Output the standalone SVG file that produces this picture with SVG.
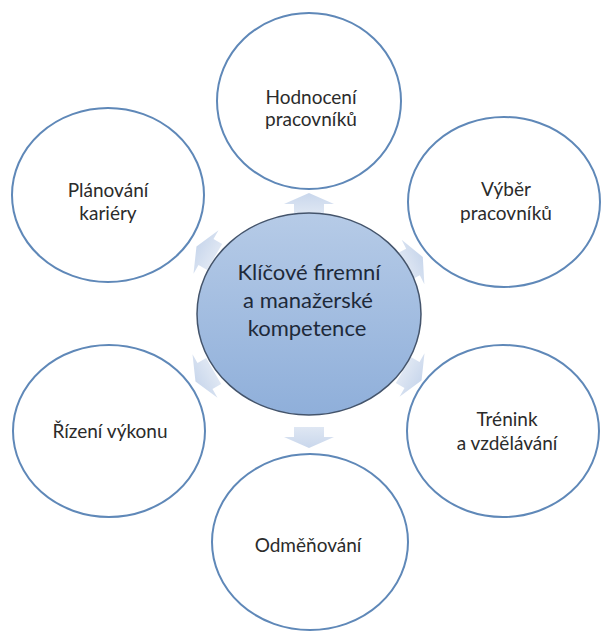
<svg xmlns="http://www.w3.org/2000/svg" width="603" height="634" viewBox="0 0 603 634">
<defs>
<linearGradient id="cg" x1="0" y1="0" x2="0" y2="1">
<stop offset="0" stop-color="#b6cbe7"/>
<stop offset="1" stop-color="#8fafda"/>
</linearGradient>
<linearGradient id="ag" x1="0" y1="0" x2="1" y2="0">
<stop offset="0" stop-color="#dfe7f3"/>
<stop offset="1" stop-color="#c9d7ec"/>
</linearGradient>
<polygon id="arr" points="-10,-15 0,-15 0,-25 11,0 0,25 0,15 -10,15"/>
</defs>
<style>
.outer{fill:#ffffff;stroke:#5f88b8;stroke-width:2}
.center{fill:url(#cg);stroke:#44546b;stroke-width:1.5}
.t{font-family:Lato,"Open Sans",sans-serif;font-size:19px;fill:#2b2b2b;text-anchor:middle}
.tc{font-family:Lato,"Open Sans",sans-serif;font-size:22px;fill:#1e2a3a;text-anchor:middle}
.a{fill:url(#ag)}
</style>
<rect width="603" height="634" fill="#ffffff"/>
<g id="connectors">
<use href="#arr" class="a" transform="translate(309,204) rotate(-90)"/>
<use href="#arr" class="a" transform="translate(413,262) rotate(-27)"/>
<use href="#arr" class="a" transform="translate(412,375) rotate(30)"/>
<use href="#arr" class="a" transform="translate(309,437) rotate(90)"/>
<use href="#arr" class="a" transform="translate(205,376) rotate(150)"/>
<use href="#arr" class="a" transform="translate(206,252) rotate(210)"/>
</g>
<g id="node-hodnoceni">
<ellipse class="outer" cx="309" cy="101" rx="92" ry="88"/>
<text class="t" x="311" y="104">Hodnocení</text>
<text class="t" x="311" y="126">pracovníků</text>
</g>
<g id="node-vyber">
<ellipse class="outer" cx="504" cy="202" rx="96" ry="85"/>
<text class="t" x="506" y="196">Výběr</text>
<text class="t" x="506" y="220">pracovníků</text>
</g>
<g id="node-trenink">
<ellipse class="outer" cx="503" cy="431" rx="96" ry="86"/>
<text class="t" x="507" y="426">Trénink</text>
<text class="t" x="507" y="450">a vzdělávání</text>
</g>
<g id="node-odmenovani">
<ellipse class="outer" cx="310" cy="542" rx="98" ry="88"/>
<text class="t" x="308" y="552">Odměňování</text>
</g>
<g id="node-rizeni">
<ellipse class="outer" cx="109" cy="431" rx="96" ry="86"/>
<text class="t" x="110" y="438">Řízení výkonu</text>
</g>
<g id="node-planovani">
<ellipse class="outer" cx="108" cy="195" rx="96" ry="87"/>
<text class="t" x="108" y="197">Plánování</text>
<text class="t" x="108" y="220">kariéry</text>
</g>
<g id="node-center">
<ellipse class="center" cx="309" cy="314" rx="112" ry="101"/>
<text class="tc" x="309" y="280">Klíčové firemní</text>
<text class="tc" x="308" y="308">a manažerské</text>
<text class="tc" x="307" y="336">kompetence</text>
</g>
</svg>
